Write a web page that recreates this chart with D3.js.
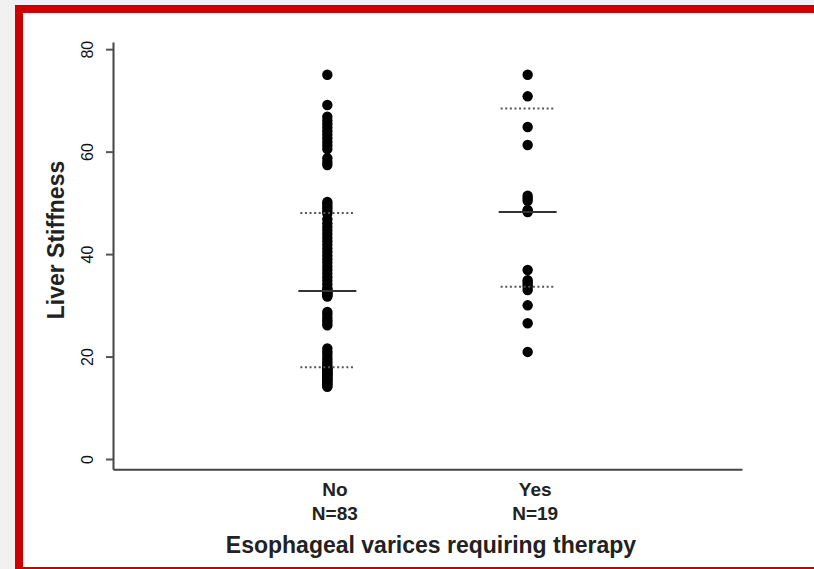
<!DOCTYPE html>
<meta charset="utf-8">
<style>
  body { margin: 0; background: #f1f1f1; }
  svg { display: block; font-family: "Liberation Sans", Arial, sans-serif; }
  .axis path.domain { stroke: #444; stroke-width: 2; }
  .axis line { stroke: #555; stroke-width: 2; }
  .xlab { font-size: 19px; font-weight: bold; fill: #222; }
  .title { font-size: 23px; font-weight: bold; fill: #222; }
</style>
<body>
<svg id="chart" width="814" height="569"></svg>
<script src="https://cdnjs.cloudflare.com/ajax/libs/d3/7.8.5/d3.min.js"></script>
<script>
  const categories = ["No", "Yes"]
  const counts = ["N=83", "N=19"]
  const noValues = [
    14.1, 14.3, 14.6, 14.9, 15.1, 15.3, 15.5, 15.7, 15.9, 16.1, 16.3, 16.5, 16.6, 16.8,
    17.0, 17.1, 17.3, 17.5, 17.6, 17.8, 18.0,
    18.4, 18.9, 19.4, 19.9, 20.5, 21.0, 21.6,
    26.1, 26.6, 27.1, 27.6, 28.2, 28.7,
    31.7, 31.9, 32.1, 32.3, 32.5, 32.7, 32.9, 33.0,
    33.4, 34.1, 34.8, 35.5, 36.2, 36.9, 37.6, 38.3, 39.0, 39.7, 40.4, 41.1, 41.8, 42.5,
    43.2, 43.9, 44.6, 45.3, 46.0, 46.8,
    47.9, 48.3, 48.8, 49.3, 49.8, 50.2,
    57.4, 58.0, 58.7, 60.5, 61.2, 61.9, 62.6, 63.3, 64.0, 64.7, 65.4, 66.1, 66.8,
    69.1, 75.0
  ]
  const yesValues = [
    20.9, 26.5, 30.0, 33.0, 33.6, 34.0, 34.5, 34.9, 36.9,
    48.2, 48.4, 48.6, 50.4, 50.9, 51.4, 61.3, 64.8, 70.8, 75.0
  ]
  const medians = [32.8, 48.2]
  const lowerQuartiles = [17.9, 33.6]
  const upperQuartiles = [48.0, 68.4]
  const yTicks = [0, 20, 40, 60, 80]

  const svg = d3.select('#chart')

  // frame: red band on top and left, thin red line at the bottom
  svg.append('rect').attr('x', 15).attr('y', 5).attr('width', 799).attr('height', 564).attr('fill', '#cc0000')
  svg.append('rect').attr('x', 23).attr('y', 13).attr('width', 791).attr('height', 554).attr('fill', '#fff')

  const x = d3.scalePoint()
    .domain(categories)
    .range([113, 742])
    .padding(1.07)

  const y = d3.scaleLinear()
    .domain([-2, 81.4])
    .range([469.25, 42])

  // y axis
  const yAxis = svg.append('g')
      .attr('class', 'axis')
      .attr('transform', 'translate(113,0)')
      .call(d3.axisLeft(y).tickValues(yTicks).tickSize(7).tickSizeOuter(0).tickPadding(0))
  yAxis.selectAll('.tick text')
      .attr('x', 0).attr('dy', 0)
      .attr('text-anchor', 'middle')
      .attr('transform', 'translate(-20,0) rotate(-90)')
      .style('font-size', '16px')
      .style('fill', '#111')

  // x axis
  const xAxis = svg.append('g')
      .attr('class', 'axis')
      .attr('transform', 'translate(0,469.25)')
      .call(d3.axisBottom(x).tickSize(0).tickSizeOuter(0).tickFormat(''))

  xAxis.selectAll('.tick').append('text')
      .attr('class', 'xlab')
      .attr('text-anchor', 'middle')
      .attr('dx', 7)
      .attr('y', 27)
      .text(d => d)
  xAxis.selectAll('.tick').append('text')
      .attr('class', 'xlab')
      .attr('text-anchor', 'middle')
      .attr('dx', 7)
      .attr('y', 51)
      .text((d, i) => counts[i])

  svg.append('text')
      .attr('class', 'title')
      .attr('x', 431).attr('y', 553)
      .attr('text-anchor', 'middle')
      .text('Esophageal varices requiring therapy')

  svg.append('text')
      .attr('class', 'title')
      .attr('transform', 'translate(64,240) rotate(-90)')
      .attr('text-anchor', 'middle')
      .text('Liver Stiffness')

  // points
  const groups = [noValues, yesValues]
  categories.forEach((c, i) => {
    svg.append('g').selectAll('circle')
        .data(groups[i])
      .enter().append('circle')
        .attr('cx', x(c))
        .attr('cy', d => y(d))
        .attr('r', 5.2)
        .attr('fill', '#000')
  })

  // quartiles (dotted) and medians (solid)
  svg.append('g').selectAll('line')
      .data(categories.flatMap((c, i) => [[c, lowerQuartiles[i]], [c, upperQuartiles[i]]]))
    .enter().append('line')
      .attr('x1', d => x(d[0]) - 27)
      .attr('x2', d => x(d[0]) + 26)
      .attr('y1', d => y(d[1]))
      .attr('y2', d => y(d[1]))
      .attr('stroke', '#555')
      .attr('stroke-width', 2)
      .attr('stroke-dasharray', '2,2.6')

  svg.append('g').selectAll('line')
      .data(categories.map((c, i) => [c, medians[i]]))
    .enter().append('line')
      .attr('x1', d => x(d[0]) - 29)
      .attr('x2', d => x(d[0]) + 29)
      .attr('y1', d => y(d[1]))
      .attr('y2', d => y(d[1]))
      .attr('stroke', '#333')
      .attr('stroke-width', 2)
</script>
</body>
